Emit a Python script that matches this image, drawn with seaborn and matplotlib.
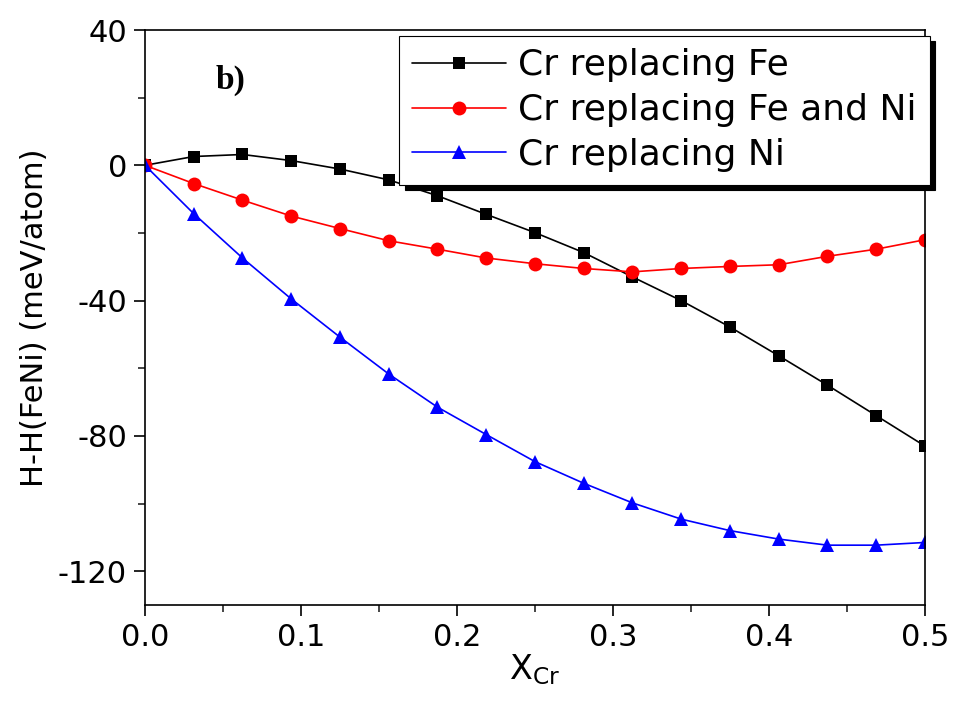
import numpy as np
import pandas as pd
import matplotlib
matplotlib.use('Agg')
import matplotlib.pyplot as plt
import seaborn as sns
from matplotlib.ticker import MultipleLocator, FormatStrFormatter

# x 值: Cr 含量 k/32
x_cr = [0.0, 0.03125, 0.0625, 0.09375, 0.125, 0.15625, 0.1875, 0.21875, 0.25,
        0.28125, 0.3125, 0.34375, 0.375, 0.40625, 0.4375, 0.46875, 0.5]

h_fe = [0.0, 2.6, 3.2, 1.4, -1.1, -4.3, -9.0, -14.5, -19.9,
        -25.8, -33.0, -40.0, -47.8, -56.3, -65.0, -74.0, -83.0]
h_feni = [0.0, -5.4, -10.3, -15.0, -18.7, -22.3, -24.8, -27.4, -29.1,
          -30.5, -31.5, -30.5, -29.9, -29.4, -26.9, -24.8, -22.0]
h_ni = [0.0, -14.3, -27.4, -39.5, -50.8, -61.7, -71.5, -79.6, -87.6,
        -94.0, -99.8, -104.6, -108.0, -110.5, -112.3, -112.3, -111.5]

labels = ['Cr replacing Fe', 'Cr replacing Fe and Ni', 'Cr replacing Ni']

sns.set_style('ticks')
plt.rcParams['font.family'] = ['DejaVu Sans']
plt.rcParams['axes.unicode_minus'] = False
plt.rcParams['text.color'] = 'black'
plt.rcParams['axes.labelcolor'] = 'black'

fig = plt.figure(figsize=(9.57, 7.06), dpi=100)
ax = fig.add_axes([0.1515, 0.143, 0.815, 0.8145])

sns.lineplot(x=x_cr, y=h_fe, ax=ax, color='black', marker='s', markersize=9,
             markeredgewidth=0, linewidth=1.2, label=labels[0])
sns.lineplot(x=x_cr, y=h_feni, ax=ax, color='#ff0000', marker='o', markersize=10,
             markeredgewidth=0, linewidth=1.2, label=labels[1])
sns.lineplot(x=x_cr, y=h_ni, ax=ax, color='#0000ff', marker='^', markersize=10,
             markeredgewidth=0, linewidth=1.2, label=labels[2])

ax.set_xlim(0, 0.5)
ax.set_ylim(-130, 40)
ax.xaxis.set_major_locator(MultipleLocator(0.1))
ax.xaxis.set_minor_locator(MultipleLocator(0.05))
ax.yaxis.set_major_locator(MultipleLocator(40))
ax.yaxis.set_minor_locator(MultipleLocator(20))
ax.xaxis.set_major_formatter(FormatStrFormatter('%.1f'))
ax.tick_params(axis='both', which='major', direction='out', length=8, width=1.2,
               labelsize=22, colors='black', pad=5)
ax.tick_params(axis='both', which='minor', direction='out', length=5, width=1.2)
for s in ax.spines.values():
    s.set_linewidth(1.2)
    s.set_color('black')

ax.set_xlabel('X$_{\\mathregular{Cr}}$', fontsize=24, labelpad=0)
ax.set_ylabel('H-H(FeNi) (meV/atom)', fontsize=22, labelpad=6)

ax.text(0.045, 25, 'b)', fontsize=24, fontweight='bold',
        family=['Liberation Serif', 'DejaVu Serif'], ha='left', va='center')

leg = ax.legend(loc='upper right', bbox_to_anchor=(1.006, 0.99), fontsize=26,
                frameon=True, fancybox=False, borderaxespad=0,
                handlelength=2.6, handletextpad=0.35, labelspacing=0.3,
                borderpad=0.35,
                shadow={'ox': 4, 'oy': -4, 'color': 'black', 'alpha': 1})
leg.get_frame().set_edgecolor('black')
leg.get_frame().set_linewidth(0.8)
leg.get_frame().set_alpha(1)

plt.savefig('out.png', dpi=100)
